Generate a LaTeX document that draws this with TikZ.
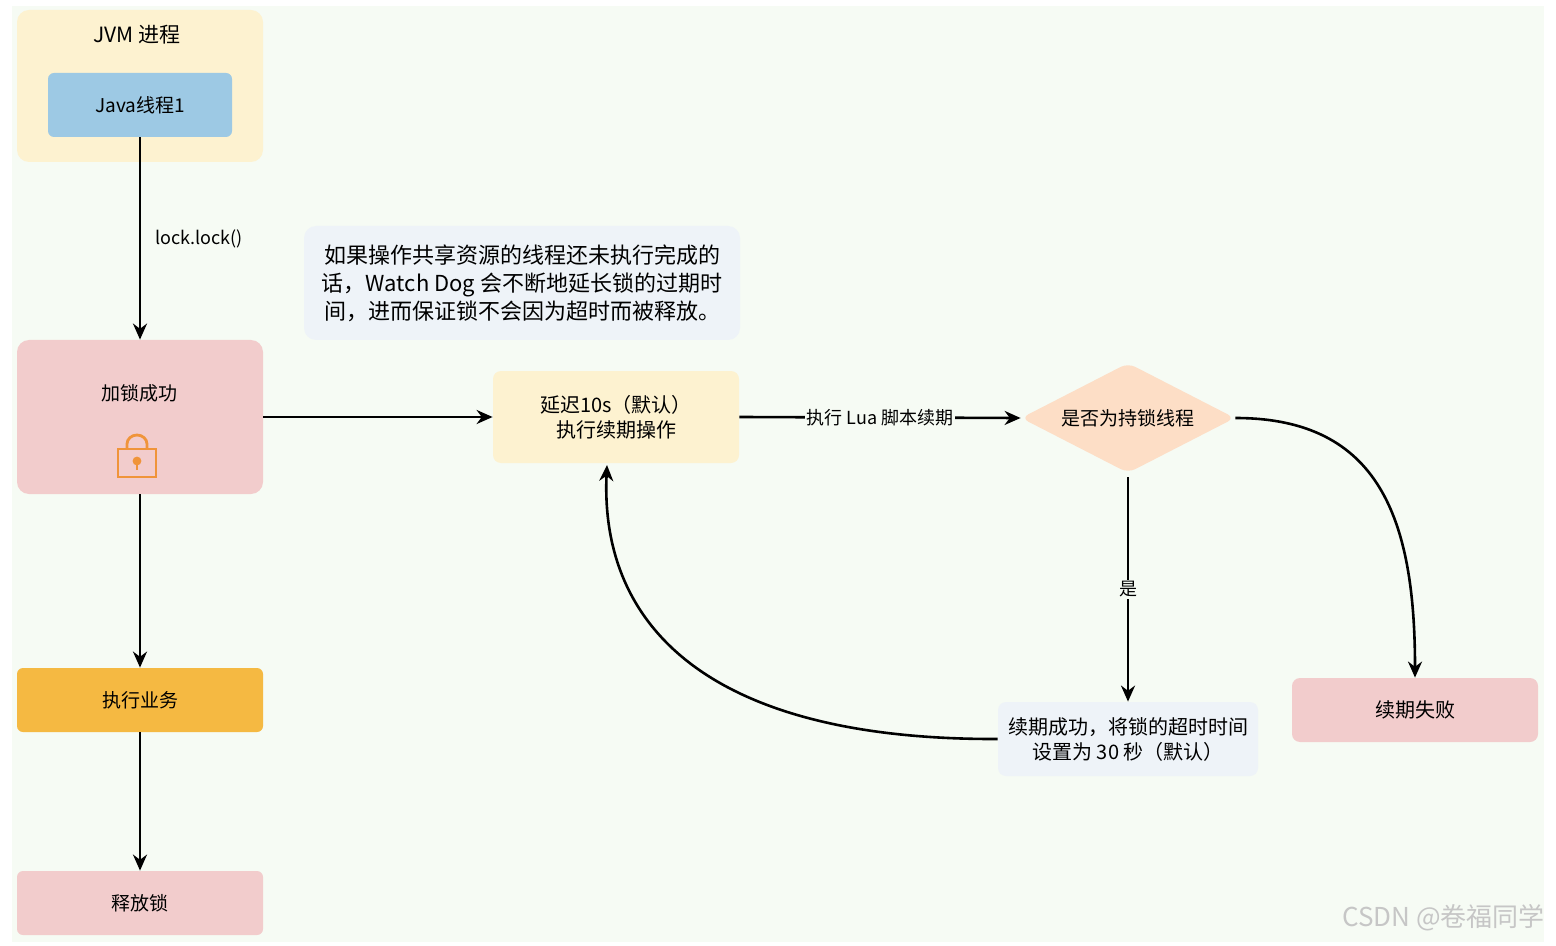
\documentclass[tikz,border=0pt]{standalone}
\usepackage{fontspec}
\setmainfont{Noto Sans CJK SC}
\usetikzlibrary{shapes.geometric,arrows.meta}
\definecolor{bg}{HTML}{F6FBF4}
\definecolor{yel}{HTML}{FDF2D0}
\definecolor{blu}{HTML}{9DC9E4}
\definecolor{pnk}{HTML}{F2CCCC}
\definecolor{org}{HTML}{F5B942}
\definecolor{gry}{HTML}{EEF3F8}
\definecolor{pch}{HTML}{FDDEC6}
\definecolor{lk}{HTML}{F0943A}
\begin{document}
\begin{tikzpicture}[x=0.5pt,y=-0.5pt,
 box/.style={rounded corners=6pt,inner sep=0pt,align=center,font=\fontsize{9.5}{11}\selectfont},
 arr/.style={-{Stealth[length=8pt,width=7pt]},line width=1.3pt},
 lbl/.style={font=\fontsize{9}{10}\selectfont,fill=bg,inner sep=1pt}]
\useasboundingbox (0,0) rectangle (1556,946);
\fill[white] (0,0) rectangle (1556,946);
\fill[bg] (12,6) rectangle (1544,942);
\node[box,fill=yel,minimum width=123pt,minimum height=76pt] (jvm) at (140,86) {};
\node[font=\fontsize{10.5}{12}\selectfont] (jvmt) at (137,35) {JVM 进程};
\node[box,rounded corners=3pt,fill=blu,minimum width=92pt,minimum height=32pt] (jt) at (140,105) {Java线程1};
\node[box,fill=pnk,minimum width=123pt,minimum height=77pt] (lock) at (140,417) {};
\node[font=\fontsize{9.5}{11}\selectfont] (lockt) at (139,393) {加锁成功};
\node[box,rounded corners=3pt,fill=org,minimum width=123pt,minimum height=32pt] (biz) at (140,700) {执行业务};
\node[box,rounded corners=3pt,fill=pnk,minimum width=123pt,minimum height=32pt] (rel) at (140,903) {释放锁};
\node[box,fill=gry,minimum width=218pt,minimum height=57pt,font=\fontsize{11}{14}\selectfont] (note) at (522,283) {如果操作共享资源的线程还未执行完成的\\话，Watch Dog 会不断地延长锁的过期时\\间，进而保证锁不会因为超时而被释放。};
\node[box,rounded corners=4pt,fill=yel,minimum width=123pt,minimum height=46pt,font=\fontsize{10}{12.5}\selectfont] (delay) at (616,417) {延迟10s（默认）\\执行续期操作};
\node[diamond,aspect=2,fill=pch,rounded corners=4pt,minimum width=107pt,minimum height=55pt,inner sep=0pt,font=\fontsize{9.5}{11}\selectfont] (dia) at (1128,418) {是否为持锁线程};
\node[box,rounded corners=4pt,fill=gry,minimum width=130pt,minimum height=37pt,font=\fontsize{10}{12.5}\selectfont] (ok) at (1128,739) {续期成功，将锁的超时时间\\设置为 30 秒（默认）};
\node[box,rounded corners=4pt,fill=pnk,minimum width=123pt,minimum height=32pt,font=\fontsize{10}{12}\selectfont] (fail) at (1415,710) {续期失败};
% lock icon
\draw[lk,line width=1.4pt] (118,449) rectangle (156,477);
\draw[lk,line width=1.4pt] (127,449) -- (127,444) arc[start angle=180,end angle=360,x radius=10,y radius=9] -- (147,449);
\fill[lk] (137,461) circle (2.2pt);
\draw[lk,line width=1.2pt] (137,462) -- (137,470);
% edges
\draw[arr] (jt) -- node[lbl,pos=0.5,right=0pt,xshift=6pt,fill=none]{lock.lock()} (lock);
\draw[arr] (lock) -- (biz);
\draw[arr] (biz) -- (rel);
\draw[arr] (lock.east) -- (delay.west);
\draw[arr] (delay.east) -- node[lbl]{执行 Lua 脚本续期} (dia.west);
\draw[arr] (dia.south) ++(0,4) -- node[lbl]{是} (ok.north);
\draw[arr] (dia.east) .. controls (1380,418) and (1415,520) .. (fail.north);
\draw[arr] (ok.west) .. controls (700,740) and (600,620) .. (607,465);
\node[text=gray!45,font=\fontsize{13}{14}\selectfont,anchor=east] (wm) at (1552,918) {CSDN @卷福同学};
\end{tikzpicture}
\end{document}
